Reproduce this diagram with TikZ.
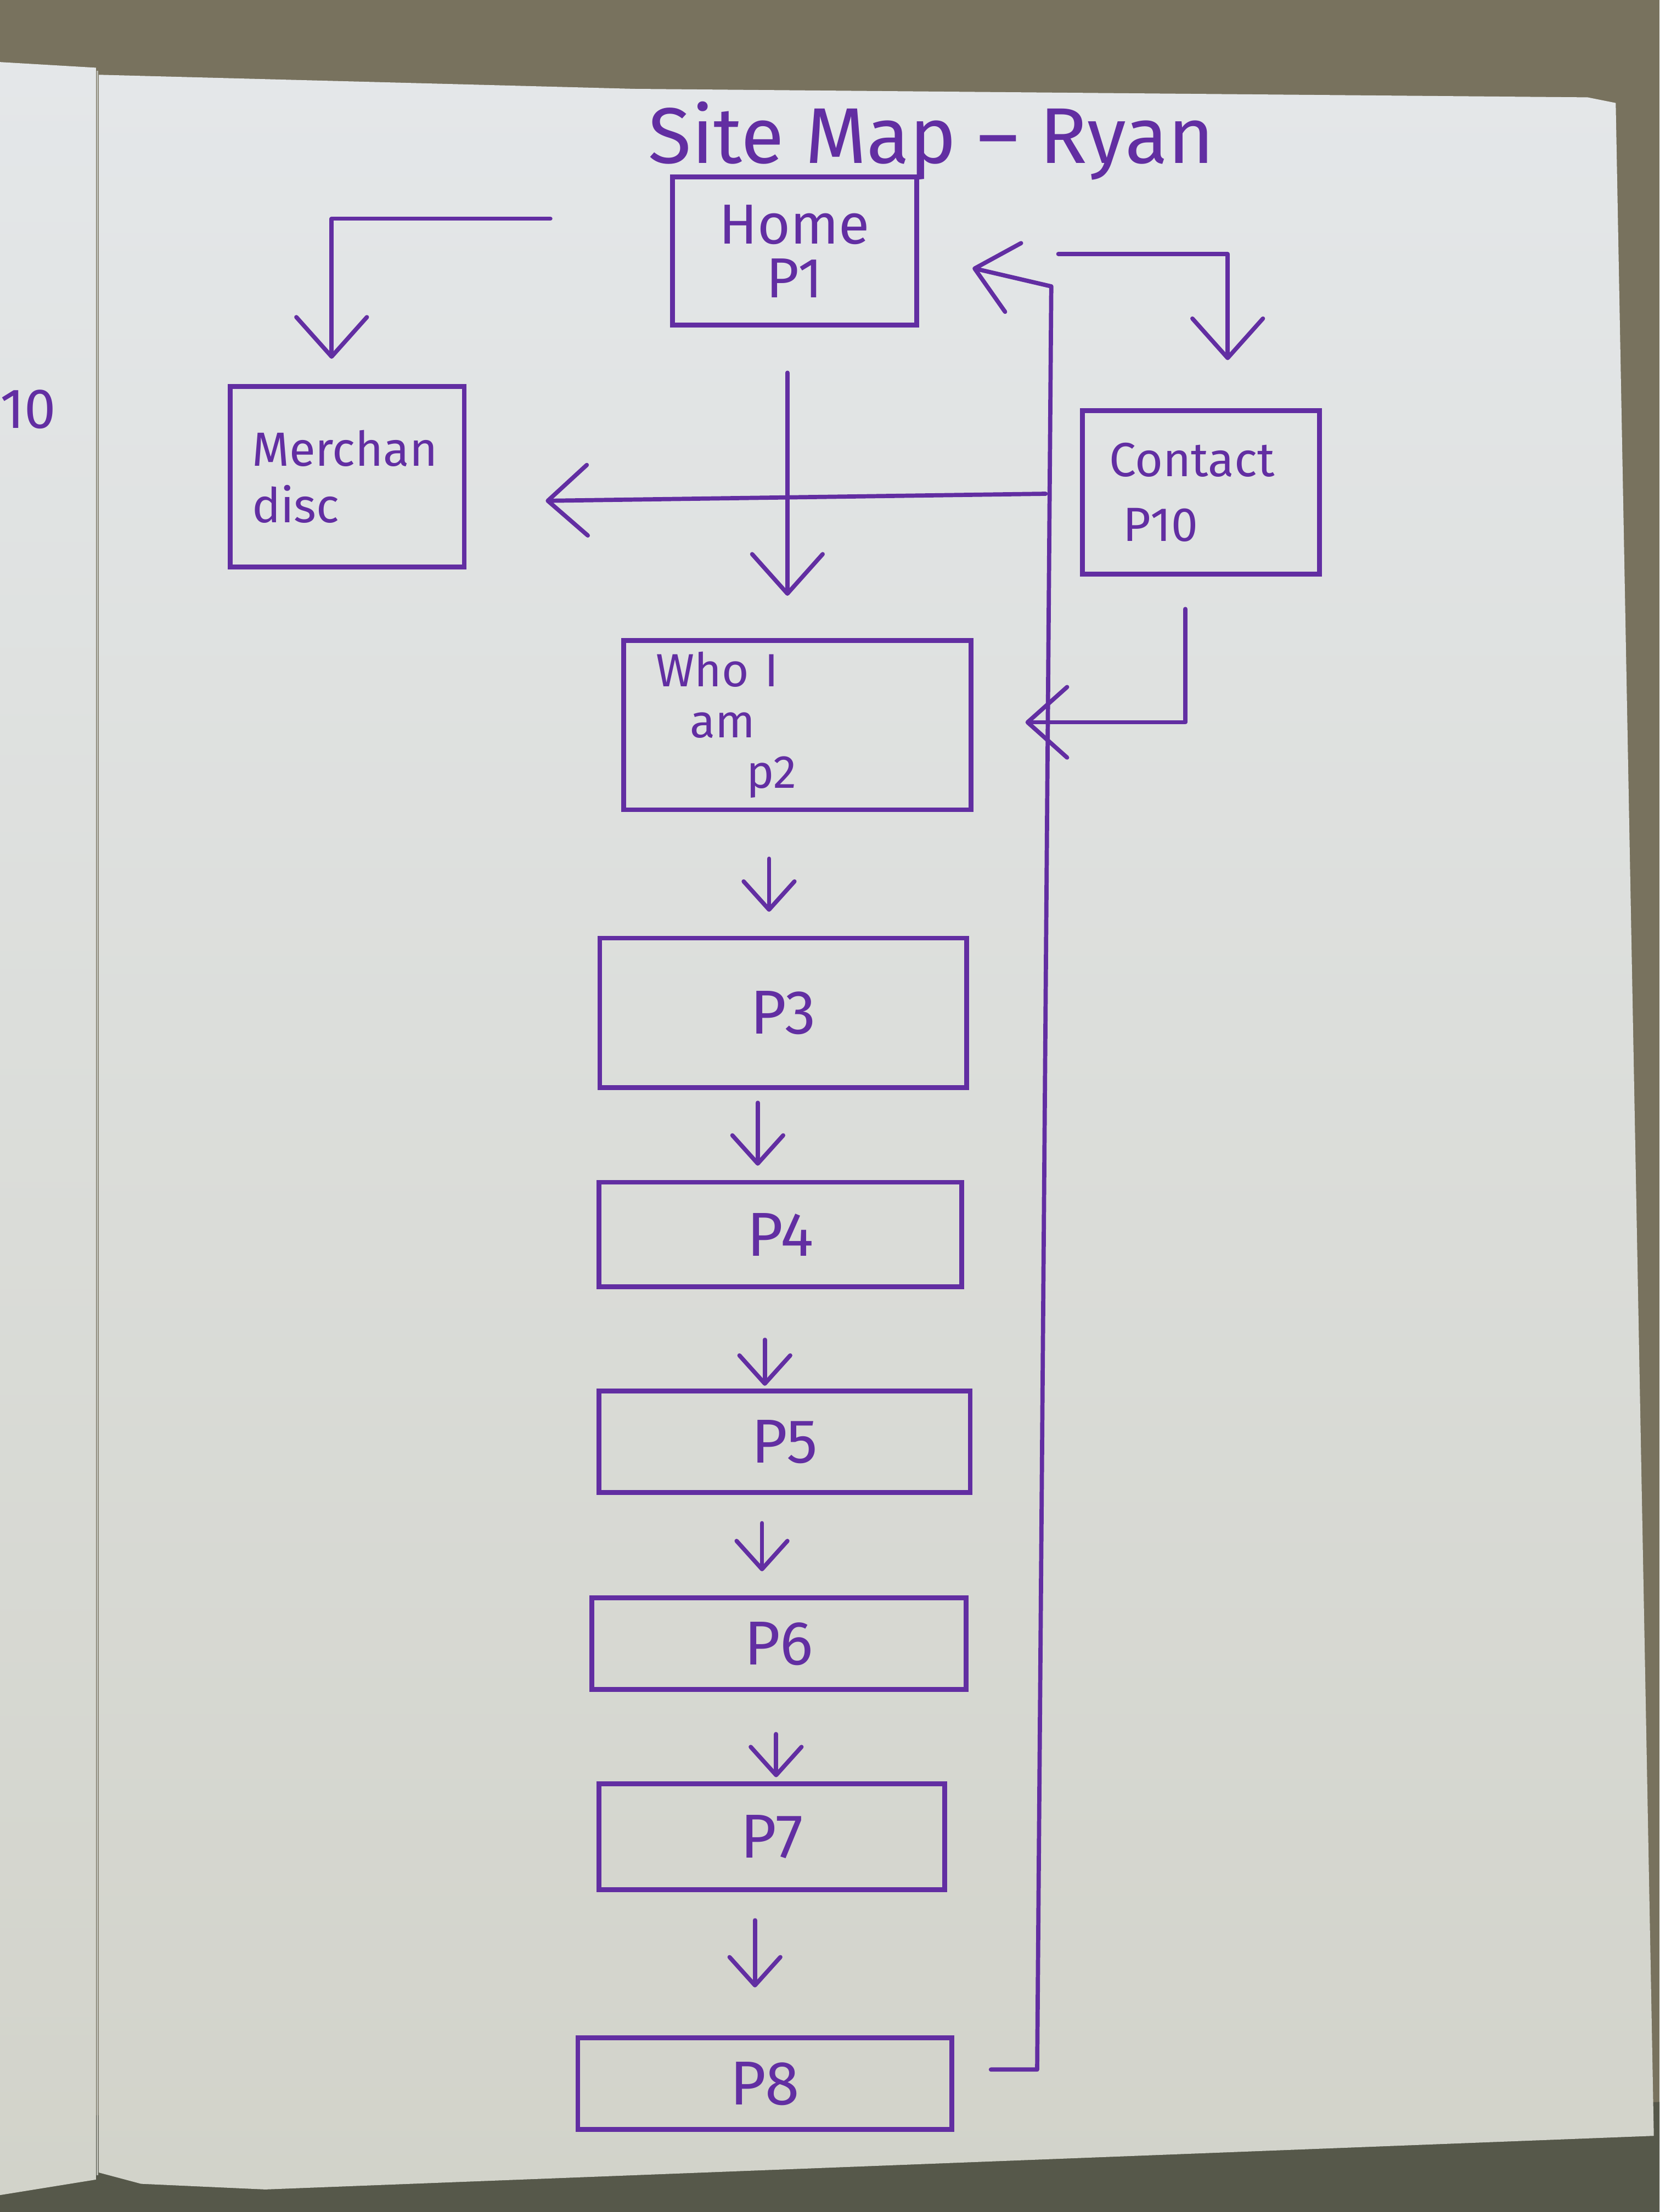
\documentclass[tikz,border=0pt]{standalone}
\usepackage{fontspec}
\setmainfont{Fira Sans}
\usetikzlibrary{arrows.meta,calc}
\definecolor{pen}{RGB}{98,46,162}
\definecolor{paper}{RGB}{228,231,233}
\definecolor{paperlo}{RGB}{210,211,202}
\definecolor{desk}{RGB}{120,114,94}
\definecolor{deskdark}{RGB}{86,88,74}
\definecolor{fold}{RGB}{185,186,178}
\begin{document}
\begin{tikzpicture}[x=1pt,y=-1pt,
  box/.style={draw=pen,line width=3.4pt,inner sep=0pt,text=pen,align=center,
    font=\fontsize{40}{38}\selectfont},
  pbox/.style={box,font=\fontsize{44}{44}\selectfont},
  conn/.style={draw=pen,line width=3pt,line cap=round,line join=round},
  bigtip/.style={-{Straight Barb[length=28pt,width=50pt,line width=3pt,round]}},
  smalltip/.style={-{Straight Barb[length=20pt,width=36pt,line width=3pt,round]}},
  ink/.style={text=pen,inner sep=0pt}
]
\useasboundingbox (0,0) rectangle (1176,1568);
% background (desk and notebook page)
\fill[desk] (0,0) rectangle (1176,1568);
\fill[deskdark] (0,1500) -- (1176,1490) -- (1176,1568) -- (0,1568) -- cycle;
\shade[top color=paper,bottom color=paperlo]
  (0,44) -- (68,48) -- (68,1545) -- (0,1556) -- cycle;
\shade[top color=paper,bottom color=paperlo]
  (70,53) -- (450,63) -- (1125,69) -- (1145,73) -- (1172,1514)
  -- (188,1552) -- (100,1548) -- (70,1540) -- cycle;
\draw[fold,line width=1.5pt] (69,50) -- (69,1542);

% left page number
\node[ink,font=\fontsize{40}{40}\selectfont] (pagenum) at (20,290) {10};

% title
\node[ink,font=\fontsize{56}{60}\selectfont] (title) at (660,100) {Site Map – Ryan};

% pages
\node[box,minimum width=173pt,minimum height=105pt] (home) at (563,178) {Home\\P1};
\node[box,minimum width=166pt,minimum height=128pt,align=left,text width=135pt,
  font=\fontsize{34}{40}\selectfont] (merch) at (246,338) {Merchan\\disc};
\node[box,minimum width=168pt,minimum height=116pt,align=left,text width=130pt,
  font=\fontsize{34}{46}\selectfont] (contact) at (851,349) {Contact\\\hspace{10pt}P10};
\node[box,minimum width=246pt,minimum height=120pt,align=left,text width=200pt,
  font=\fontsize{33}{36}\selectfont] (who) at (565,514)
  {Who I\\\hspace{24pt}am\\\hspace{64pt}p2};
\node[pbox,minimum width=260pt,minimum height=106pt] (p3) at (555,718) {P3};
\node[pbox,minimum width=257pt,minimum height=74pt] (p4) at (553,875) {P4};
\node[pbox,minimum width=263pt,minimum height=72pt] (p5) at (556,1022) {P5};
\node[pbox,minimum width=265pt,minimum height=65pt] (p6) at (552,1165) {P6};
\node[pbox,minimum width=245pt,minimum height=75pt] (p7) at (547,1302) {P7};
\node[pbox,minimum width=265pt,minimum height=65pt] (p8) at (542,1477) {P8};

% free ends and corners
\coordinate (mstart) at (390,155);
\coordinate (cstart) at (750,180);
\coordinate (lb) at (735,1467);
\coordinate (lt) at (745,203);
\coordinate (mh) at (741,350);

% Home -> Who I am
\draw[conn,bigtip] ($(home.south)+(-5,32)$) -- ($(who.north)+(-7,-30)$);
% -> Merchandise
\draw[conn,bigtip] (mstart) -| ($(merch.north)+(-11,-18)$);
% -> Contact
\draw[conn,bigtip] (cstart) -| ($(contact.north)+(19,-34)$);
% P8 loop back to Home
\draw[conn,bigtip] ($(p8.east)+(26,-10)$) -- (lb) -- (lt) -- ($(home.east)+(38,12)$);
% loop line -> Merchandise
\draw[conn,bigtip] (mh) -- ($(merch.east)+(56,17)$);
% Contact -> Who I am
\draw[conn,bigtip] ($(contact.south)+(-11,23)$) |- ($(who.east)+(37,-2)$);

% chain of pages
\draw[conn,smalltip] ($(who.south)+(-20,33)$) -- ($(p3.north)+(-10,-17)$);
\draw[conn,smalltip] ($(p3.south)+(-18,9)$) -- ($(p4.north)+(-16,-10)$);
\draw[conn,smalltip] ($(p4.south)+(-11,36)$) -- ($(p5.north)+(-14,-2)$);
\draw[conn,smalltip] ($(p5.south)+(-16,20)$) -- ($(p6.north)+(-12,-17)$);
\draw[conn,smalltip] ($(p6.south)+(-2,30)$) -- ($(p7.north)+(3,-3)$);
\draw[conn,smalltip] ($(p7.south)+(-12,20)$) -- ($(p8.north)+(-7,-34)$);
\end{tikzpicture}
\end{document}
